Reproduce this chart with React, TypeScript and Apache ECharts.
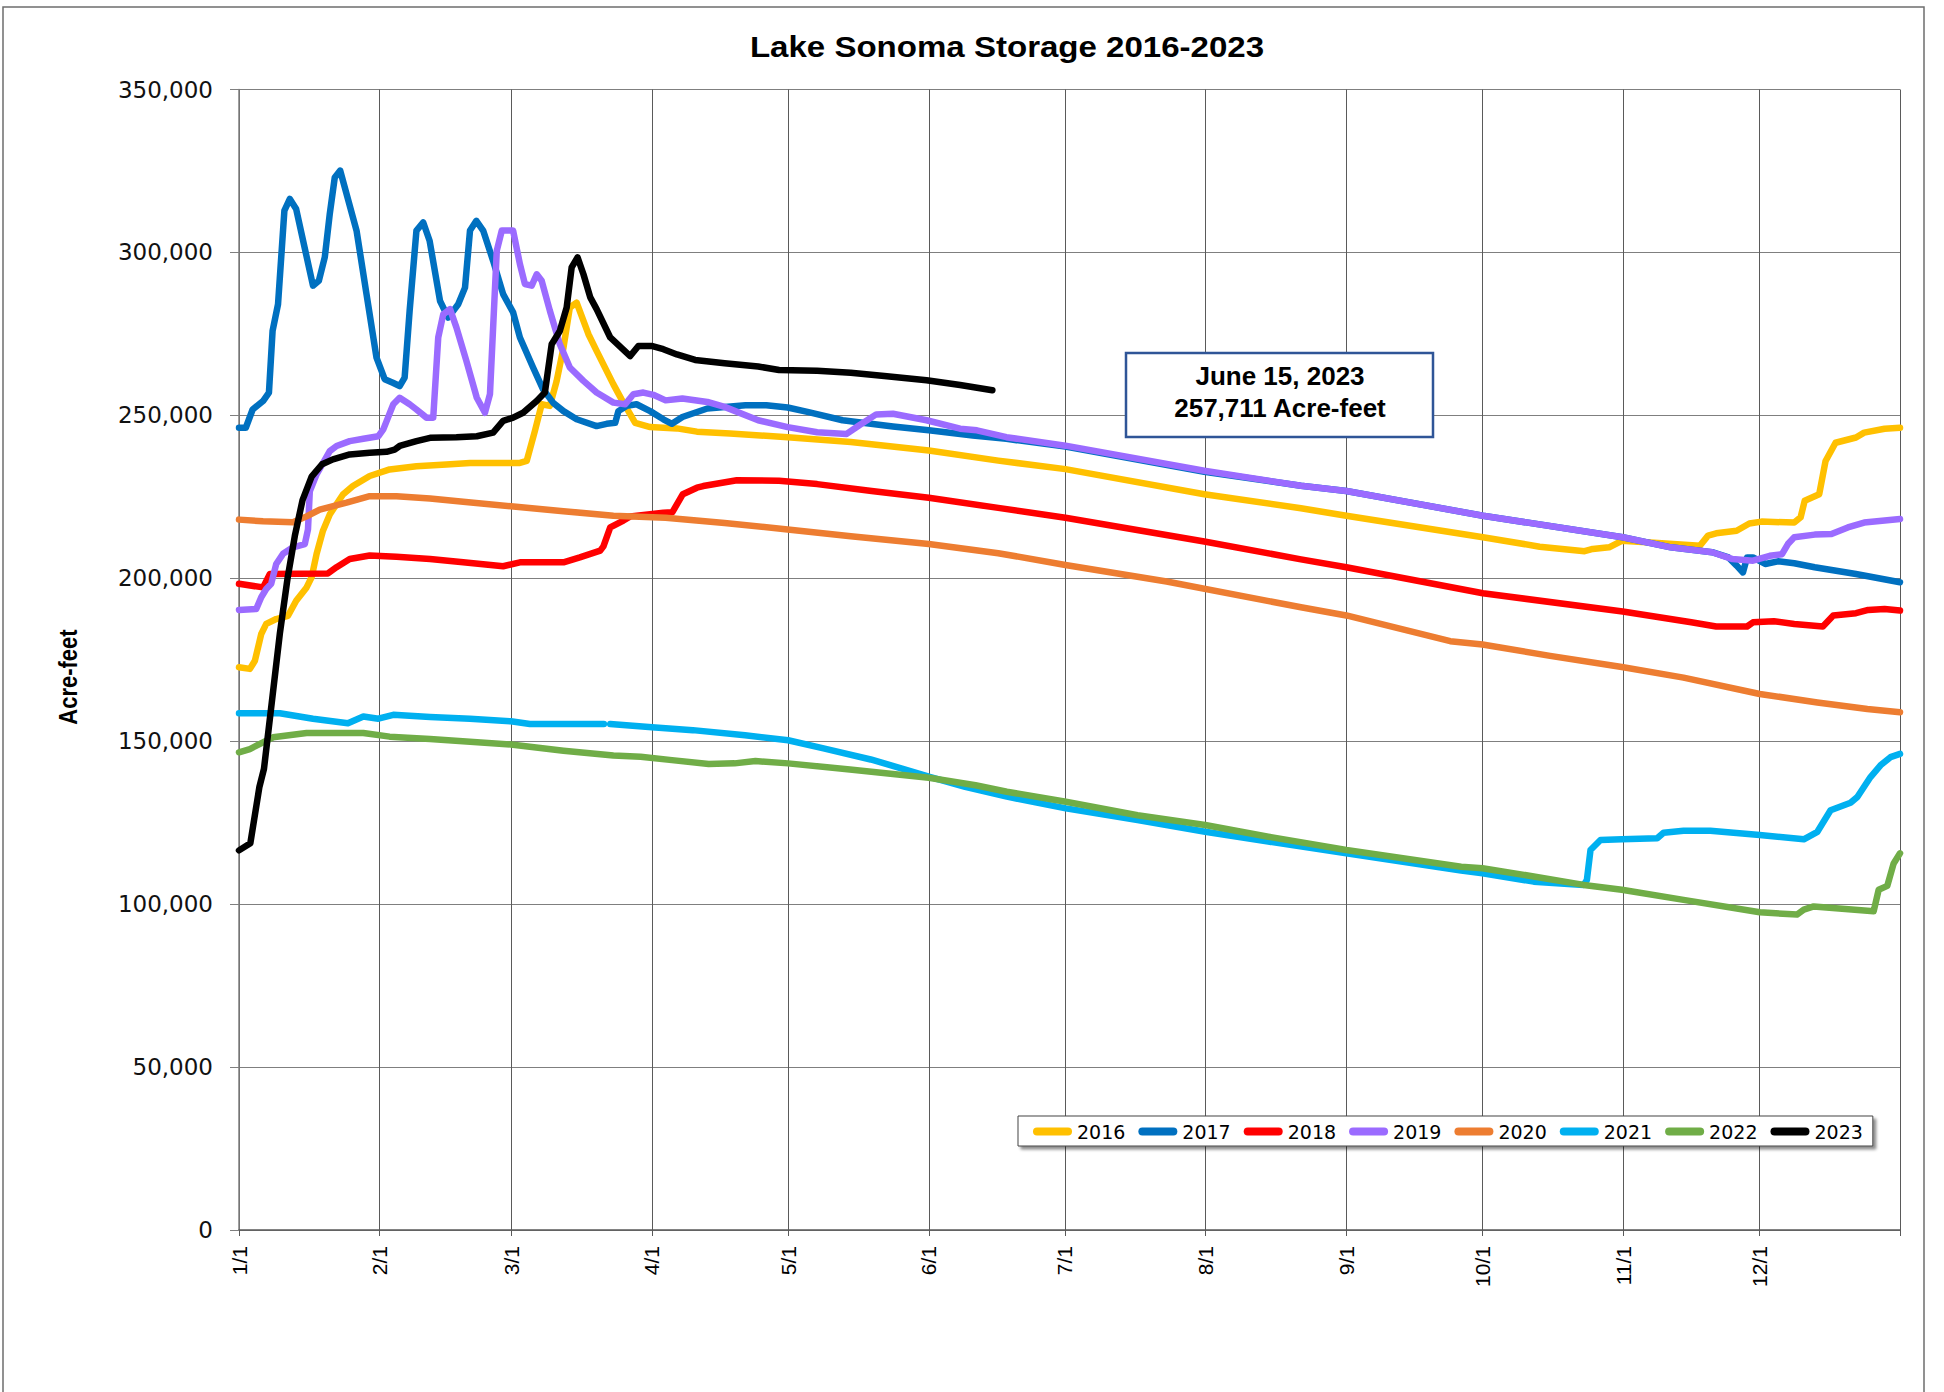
import React, { useEffect, useRef } from "react";
import * as echarts from "echarts";

// ---------- axis structure ----------
const monthLabels = ["1/1", "2/1", "3/1", "4/1", "5/1", "6/1", "7/1", "8/1", "9/1", "10/1", "11/1", "12/1"];
const monthStartDays = [0, 31, 60, 91, 121, 152, 182, 213, 244, 274, 305, 335, 366];
const yMax = 350000;
const yInterval = 50000;

const seriesNames = ["2016", "2017", "2018", "2019", "2020", "2021", "2022", "2023"];
const seriesColors = ["#FFC000", "#0070C0", "#FF0000", "#9B6BFF", "#ED7D31", "#00B0F0", "#70AD47", "#000000"];

// ---------- data: [day of year (leap-year axis), acre-feet] ----------
const y2016: [number, number][] = [
  [0, 172700], [2.4, 172200], [3.5, 174700], [4.9, 182900], [6, 186000], [8.2, 187500], [10.8, 188500],
  [12.6, 193100], [14.9, 197200], [16, 200300], [17.1, 207500], [18.5, 214600], [20, 219600], [22.9, 225700],
  [25.1, 228300], [28.8, 231400], [33.2, 233400], [39.1, 234400], [45.7, 234900], [50.9, 235400], [61.9, 235400],
  [63.4, 236000], [65.2, 245200], [66.7, 253400], [68.5, 252900], [70, 260600], [71.5, 270800], [72.9, 283100],
  [74.4, 284600], [77, 274900], [78.8, 269800], [82.5, 259500], [84.3, 254900], [87.3, 247700], [90.6, 246400],
  [96.5, 246000], [100.9, 245000], [108.2, 244400], [120.9, 243300], [134.8, 241800], [152, 239200],
  [167.3, 236100], [182.1, 233500], [212.7, 225800], [234, 221500], [244, 219200], [274.1, 212600],
  [286.6, 209700], [296.5, 208300], [298.3, 209000], [301.9, 209500], [304.7, 211500], [311, 211000],
  [321.9, 210000], [323.7, 213100], [325.5, 213800], [330, 214600], [332.8, 216800], [335.5, 217400],
  [342.7, 217100], [344.1, 218700], [345, 223800], [348.2, 225800], [349.6, 236000], [351.8, 241600],
  [356.3, 243200], [358.1, 244700], [362.6, 245900], [366, 246200],
];

const y2017: [number, number][] = [
  [0, 246200], [1.5, 246200], [3, 251800], [5.3, 254400], [6.6, 257000], [7.4, 275900], [8.6, 284100],
  [10, 312800], [11.2, 316400], [12.6, 313300], [16.3, 289800], [17.6, 291300], [18.9, 298500], [20, 311800],
  [21.1, 323000], [22.3, 325100], [25.9, 306700], [28.1, 287200], [30.3, 267700], [32.1, 261100],
  [33.9, 260000], [35.4, 259000], [36.5, 261600], [37.6, 282100], [39.1, 306700], [40.6, 309200],
  [42, 303600], [44.3, 285100], [46.1, 280000], [48.3, 284100], [49.8, 289200], [50.9, 306700],
  [52.3, 309700], [53.8, 306700], [56, 297400], [58.2, 287200], [60.4, 281600], [61.9, 273900],
  [64.8, 264700], [67, 258000], [69.2, 253900], [71.5, 251300], [74.4, 248800], [78.8, 246700],
  [81, 247400], [82.9, 247700], [83.6, 251300], [85.4, 252900], [87.6, 253400], [90.6, 251300],
  [93.5, 248800], [95.4, 247400], [97.7, 249500], [103.2, 252100], [111.6, 253100], [116.2, 253100],
  [120.9, 252400], [125.5, 251000], [133, 248500], [144.1, 246600], [152, 245400], [161.7, 243800],
  [169.1, 242800], [182.1, 240400], [212.7, 232700], [234, 228400], [244, 226800], [274.1, 219200],
  [304.9, 212600], [315.5, 209500], [324.6, 208000], [328.2, 206400], [330, 203900], [331.4, 201800],
  [332.3, 206400], [333.6, 206400], [336.3, 204400], [339.1, 205200], [342.7, 204600], [347.2, 203400],
  [356.3, 201300], [366, 198800],
];

const y2018: [number, number][] = [
  [0, 198300], [5.3, 197200], [6.8, 201300], [19.6, 201500], [21.5, 203400], [24.4, 205900], [28.8, 207000],
  [34.7, 206600], [42.1, 205900], [49.4, 204900], [58.2, 203700], [61.9, 204900], [71.5, 204900],
  [75.1, 206400], [79.6, 208500], [80.3, 209800], [81.8, 215600], [84.7, 217700], [86.2, 219000],
  [93.5, 220100], [95.5, 220300], [97.8, 225800], [100.9, 227800], [102.3, 228300], [109.7, 230100],
  [119, 229900], [127.4, 228900], [139.4, 226800], [152, 224700], [167.3, 221600], [182.1, 218600],
  [212.7, 211300], [234, 205800], [244, 203400], [274.1, 195400], [304.9, 189800], [320, 186500],
  [325.5, 185200], [332.3, 185200], [333.6, 186500], [338.2, 186800], [342.7, 186000], [349, 185200],
  [351.3, 188600], [356.3, 189300], [359, 190300], [362.6, 190600], [366, 190100],
];

const y2019: [number, number][] = [
  [0, 190300], [3.8, 190600], [4.9, 194200], [6, 196700], [7.1, 198300], [8.2, 204400], [9.7, 207500],
  [11.9, 209500], [14.5, 210500], [15.2, 215000], [15.6, 226700], [17.1, 231900], [20, 239000],
  [21.5, 240600], [24.4, 242100], [27.4, 242800], [30.7, 243600], [31.8, 245700], [34, 253400],
  [35.4, 255400], [37.6, 253400], [39.1, 251800], [41.3, 249300], [42.8, 249300], [43.9, 273900],
  [45, 281000], [46.5, 282600], [47.9, 277000], [50.1, 266700], [52.4, 255400], [54.2, 250800],
  [55.3, 256500], [56.8, 300500], [57.9, 306700], [60.4, 306700], [61.9, 296400], [63, 290300],
  [64.5, 289800], [65.6, 293300], [66.7, 291300], [68.5, 282100], [70.7, 271800], [72.9, 264700],
  [75.9, 260600], [78.8, 257000], [82.5, 253900], [85.1, 253400], [86.9, 256500], [89.1, 257000],
  [91.3, 256300], [94, 254600], [97.7, 255200], [103.2, 254100], [107, 252600], [114.4, 248500],
  [120.9, 246400], [127.4, 244800], [133.9, 244300], [136.6, 246900], [140.4, 250300], [144.1, 250500],
  [151.5, 248500], [158.9, 245900], [162.6, 245400], [169.1, 243300], [182.1, 240700], [212.7, 233000],
  [234, 228400], [244, 226800], [274.1, 219200], [304.9, 212600], [315.5, 209500], [324.6, 208000],
  [329.1, 205900], [333.6, 205400], [337.3, 206900], [340, 207400], [341.3, 210500], [342.7, 212600],
  [347.2, 213400], [350.9, 213600], [354.5, 215600], [358.1, 217100], [366, 218200],
];

const y2020: [number, number][] = [
  [0, 218000], [5.3, 217500], [11.9, 217200], [14.9, 219000], [17.8, 221100], [23.7, 223200],
  [28.8, 225200], [34.7, 225200], [42.1, 224500], [49.4, 223500], [59.9, 222100], [71.5, 220600],
  [82.5, 219200], [94, 218600], [107, 217000], [120.9, 215000], [134.8, 212900], [152, 210500],
  [167.3, 207700], [182.1, 204100], [204.4, 199000], [234, 191100], [244, 188600], [266.9, 180700],
  [274, 179700], [288.9, 176200], [304.7, 172800], [318.3, 169500], [335.1, 164500], [347.8, 161900],
  [358.8, 159900], [366, 158900],
];

const y2021: [number, number | null][] = [
  [0, 158600], [9, 158600], [16.3, 156900], [24, 155500], [27.4, 157600], [30.7, 156900], [34, 158100],
  [42.1, 157400], [50.9, 156900], [59.9, 156100], [64.1, 155300], [71.5, 155300], [80.4, 155300],
  [81.1, null], [81.8, 155300], [91, 154300], [100, 153400], [111.5, 151800], [121, 150300],
  [128.8, 147800], [139.2, 144400], [146.1, 141600], [152, 139100], [160, 136000], [169.2, 133000],
  [182.2, 129400], [198, 125800], [212.9, 122200], [226.8, 119200], [244, 115600], [269.3, 110300],
  [274, 109500], [285.3, 106900], [296.3, 105900], [297, 107400], [297.8, 116600], [300, 119700],
  [304.7, 119900], [312.5, 120200], [313.9, 121900], [318.3, 122500], [324.2, 122500], [335.1, 121200],
  [344.8, 119900], [347.8, 122200], [350.7, 128800], [355.1, 131100], [356.6, 132900], [359.5, 139000],
  [361.7, 142600], [363.9, 145100], [366, 146100],
];

const y2022: [number, number][] = [
  [0, 146600], [2.4, 147600], [7.5, 151200], [14.9, 152500], [27.4, 152500], [33.2, 151400],
  [42.1, 150700], [59.9, 149000], [71.5, 147100], [82.5, 145600], [88.5, 145200], [95.4, 144200],
  [103.5, 143000], [109.2, 143200], [113.8, 143900], [121, 143200], [134.6, 141300], [152, 138800],
  [162.3, 136500], [169.2, 134500], [182.2, 131400], [198, 127300], [212.9, 124300], [226.8, 120700],
  [244, 116600], [269.3, 111500], [274, 111000], [285.3, 108500], [296.3, 105900], [304.7, 104400],
  [318.3, 101300], [335.1, 97500], [343.3, 96800], [344.8, 98300], [347, 99300], [360.2, 97800],
  [361.3, 104400], [363.2, 105600], [364.6, 112500], [366, 115600],
];

const y2023: [number, number][] = [
  [0, 116500], [2.5, 118700], [4.5, 136000], [5.5, 141500], [7.4, 164000], [9, 183000], [10.7, 200000],
  [12.3, 213000], [14, 224000], [16, 231200], [18.3, 235000], [20.7, 236500], [24.4, 238000],
  [28.8, 238500], [32.5, 238800], [34.3, 239500], [35.4, 240600], [39.1, 242100], [42.1, 243100],
  [47.9, 243300], [52.4, 243600], [56, 244700], [58.2, 248300], [60.4, 249300], [62.6, 250800],
  [65.6, 254400], [67.4, 257000], [68.9, 271800], [70.7, 275900], [72.2, 283100], [73.3, 295400],
  [74.6, 298500], [75.9, 293300], [77.4, 286200], [78.8, 282600], [81.8, 273900], [86.2, 268200],
  [88, 271300], [90.9, 271300], [93.5, 270300], [96.5, 268700], [100.5, 267000], [107, 266000],
  [114.4, 265000], [119, 263900], [127.4, 263700], [134.8, 263100], [142.2, 262100], [151.5, 260800],
  [158.9, 259300], [166, 257711],
];

const allSeries = [y2016, y2017, y2018, y2019, y2020, y2021, y2022, y2023];

const annotationDate = "June 15, 2023";

const fmt = (v: number) => String(v).replace(/\B(?=(\d{3})+(?!\d))/g, ",");

export default function App() {
  const ref = useRef<HTMLDivElement | null>(null);

  useEffect(() => {
    if (!ref.current) return;
    const chart = echarts.init(ref.current, undefined, { renderer: "svg" });

    const dayCategories = Array.from({ length: 367 }, (_, i) => String(i));
    const isMonthStart = (i: number) => monthStartDays.includes(i);
    const isLabelDay = (i: number) => monthStartDays.includes(i) && i < 366;

    const last2023 = y2023[y2023.length - 1][1];

    const option: any = {
      animation: false,
      backgroundColor: "#ffffff",
      grid: { left: 239, right: 44, top: 89.5, bottom: 162, containLabel: false },
      xAxis: [
        {
          type: "category",
          data: dayCategories,
          boundaryGap: false,
          position: "bottom",
          axisLine: { show: true, lineStyle: { color: "#595959", width: 1.5 } },
          axisTick: { show: true, interval: (i: number) => isMonthStart(i), length: 6, lineStyle: { color: "#595959" } },
          axisLabel: {
            interval: (i: number) => isLabelDay(i),
            rotate: 90,
            margin: 16,
            fontFamily: "Liberation Sans",
            fontSize: 21,
            color: "#000",
            formatter: (v: string) => {
              const k = monthStartDays.indexOf(Number(v));
              return k >= 0 && k < 12 ? monthLabels[k] : "";
            },
          },
          splitLine: { show: true, interval: (i: number) => isMonthStart(i), lineStyle: { color: "#5a5a5a", width: 1 } },
        },
        { type: "value", min: 0, max: 366, show: false },
      ],
      yAxis: {
        type: "value",
        min: 0,
        max: yMax,
        interval: yInterval,
        axisLine: { show: true, lineStyle: { color: "#7f7f7f", width: 1.5 } },
        axisTick: { show: true, length: 9, lineStyle: { color: "#7f7f7f" } },
        axisLabel: { margin: 26, fontFamily: "DejaVu Sans", fontSize: 23, color: "#111", formatter: (v: number) => fmt(v) },
        splitLine: { show: true, lineStyle: { color: "#7f7f7f", width: 1 } },
      },
      legend: {
        left: 1018,
        top: 1116,
        orient: "horizontal",
        data: seriesNames,
        icon: "path://M4,0 L35,0 A4,4 0 0 1 35,8 L4,8 A4,4 0 0 1 4,0 Z",
        itemWidth: 39,
        itemHeight: 8,
        itemGap: 13,
        padding: [6, 10, 5, 15],
        backgroundColor: "#ffffff",
        borderColor: "#444",
        borderWidth: 1,
        shadowColor: "rgba(0,0,0,0.45)",
        shadowBlur: 3,
        shadowOffsetX: 3,
        shadowOffsetY: 3,
        selectedMode: false,
        textStyle: { fontFamily: "DejaVu Sans", fontSize: 19, color: "#000" },
      },
      series: seriesNames.map((name, idx) => ({
        name,
        type: "line",
        xAxisIndex: 1,
        yAxisIndex: 0,
        data: allSeries[idx],
        showSymbol: false,
        symbol: "none",
        color: seriesColors[idx],
        connectNulls: false,
        silent: true,
        lineStyle: { color: seriesColors[idx], width: 6.5, cap: "round", join: "round" },
        emphasis: { disabled: true },
      })),
      graphic: [
        {
          type: "rect",
          shape: { x: 3, y: 7, width: 1921, height: 1400 },
          style: { fill: "none", stroke: "#6e6e6e", lineWidth: 1.5 },
          silent: true,
          z: -1,
        },
        {
          type: "text",
          x: 1007,
          y: 47,
          scaleX: 1.14,
          style: {
            text: "Lake Sonoma Storage 2016-2023",
            fontFamily: "Liberation Sans",
            fontWeight: "bold",
            fontSize: 29,
            fill: "#000",
            align: "center",
            verticalAlign: "middle",
            textAlign: "center",
            textVerticalAlign: "middle",
          },
          silent: true,
        },
        {
          type: "text",
          x: 68,
          y: 677,
          rotation: Math.PI / 2,
          scaleY: 1.15,
          style: {
            text: "Acre-feet",
            fontFamily: "Liberation Sans",
            fontWeight: "bold",
            fontSize: 22,
            fill: "#000",
            align: "center",
            verticalAlign: "middle",
            textAlign: "center",
            textVerticalAlign: "middle",
          },
          silent: true,
        },
        {
          type: "rect",
          shape: { x: 1126, y: 353, width: 307, height: 84 },
          style: { fill: "#ffffff", stroke: "#2F5597", lineWidth: 2.5 },
          silent: true,
          z: 100,
        },
        {
          type: "text",
          x: 1280,
          y: 376,
          style: {
            text: annotationDate,
            fontFamily: "Liberation Sans",
            fontWeight: "bold",
            fontSize: 26,
            fill: "#000",
            align: "center",
            verticalAlign: "middle",
            textAlign: "center",
            textVerticalAlign: "middle",
          },
          silent: true,
          z: 101,
        },
        {
          type: "text",
          x: 1280,
          y: 408,
          style: {
            text: fmt(last2023) + " Acre-feet",
            fontFamily: "Liberation Sans",
            fontWeight: "bold",
            fontSize: 26,
            fill: "#000",
            align: "center",
            verticalAlign: "middle",
            textAlign: "center",
            textVerticalAlign: "middle",
          },
          silent: true,
          z: 101,
        },
      ],
    };

    chart.setOption(option);
    return () => chart.dispose();
  }, []);

  return (
    <div
      ref={ref}
      style={{ position: "absolute", left: 0, top: 0, width: 1944, height: 1392, background: "#fff" }}
    />
  );
}
